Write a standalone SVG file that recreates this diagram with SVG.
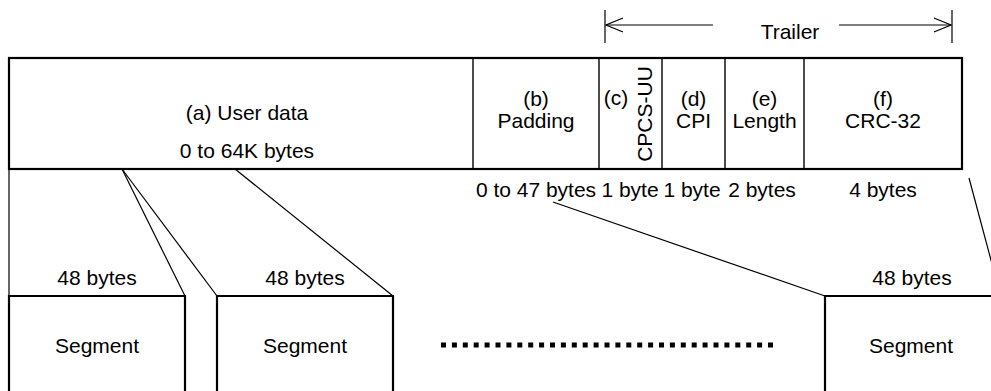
<svg xmlns="http://www.w3.org/2000/svg" width="991" height="391" viewBox="0 0 991 391">
  <style>
    text { font-family: "Liberation Sans", Arial, sans-serif; font-size: 21px; fill: #000; }
    .mid { text-anchor: middle; }
    .frame { fill: #fff; stroke: #000; stroke-width: 2.2; }
    .div { stroke: #000; stroke-width: 1.4; }
    .thin { stroke: #000; stroke-width: 1.2; fill: none; }
  </style>
  <defs>
    <!-- open V arrowhead, tip at the line end -->
    <marker id="openHead" viewBox="0 0 19 16" refX="18" refY="8" markerWidth="19" markerHeight="16" markerUnits="userSpaceOnUse" orient="auto-start-reverse">
      <path d="M1,1 L18,8 L1,15" fill="none" stroke="#000" stroke-width="1.3"/>
    </marker>
  </defs>
  <rect width="991" height="391" fill="#fff"/>

  <!-- Trailer span indicator -->
  <g id="trailer">
    <line class="thin" x1="605" y1="10" x2="605" y2="43"/>
    <line class="thin" x1="952" y1="10" x2="952" y2="43"/>
    <line class="thin" x1="606" y1="25" x2="713" y2="25" marker-start="url(#openHead)"/>
    <line class="thin" x1="839" y1="25" x2="951" y2="25" marker-end="url(#openHead)"/>
    <text class="mid" x="790" y="39">Trailer</text>
  </g>

  <!-- CPCS-PDU fields -->
  <g id="pdu">
    <rect class="frame" x="9" y="58" width="953" height="111"/>
    <line class="div" x1="473" y1="58" x2="473" y2="169"/>
    <line class="div" x1="599" y1="58" x2="599" y2="169"/>
    <line class="div" x1="662" y1="58" x2="662" y2="169"/>
    <line class="div" x1="725" y1="58" x2="725" y2="169"/>
    <line class="div" x1="804" y1="58" x2="804" y2="169"/>
  </g>
  <g id="user-data">
    <text class="mid" x="247" y="120">(a) User data</text>
    <text class="mid" x="247" y="158">0 to 64K bytes</text>
  </g>
  <g id="padding">
    <text class="mid" x="536" y="106">(b)</text>
    <text class="mid" x="536" y="128">Padding</text>
    <text class="mid" x="536" y="197">0 to 47 bytes</text>
  </g>
  <g id="cpcs-uu">
    <text class="mid" x="616" y="105">(c)</text>
    <text class="mid" transform="translate(652,114) rotate(-90)">CPCS-UU</text>
    <text class="mid" x="630" y="197">1 byte</text>
  </g>
  <g id="cpi">
    <text class="mid" x="693.5" y="106">(d)</text>
    <text class="mid" x="693.5" y="128">CPI</text>
    <text class="mid" x="692" y="197">1 byte</text>
  </g>
  <g id="length">
    <text class="mid" x="764.5" y="106">(e)</text>
    <text class="mid" x="764.5" y="128">Length</text>
    <text class="mid" x="762" y="197">2 bytes</text>
  </g>
  <g id="crc">
    <text class="mid" x="883" y="106">(f)</text>
    <text class="mid" x="883" y="128">CRC-32</text>
    <text class="mid" x="883" y="197">4 bytes</text>
  </g>

  <!-- Mapping lines from the PDU onto the cells -->
  <g id="connectors">
    <line class="thin" x1="9" y1="169" x2="9" y2="296"/>
    <line class="thin" x1="122" y1="169" x2="185" y2="296"/>
    <line class="thin" x1="122" y1="169" x2="217" y2="296"/>
    <line class="thin" x1="235" y1="169" x2="393" y2="296"/>
    <line class="thin" x1="553" y1="202" x2="825" y2="296"/>
    <line class="thin" x1="969" y1="178" x2="995" y2="275"/>
  </g>

  <!-- 48-byte segments -->
  <g id="segment-1">
    <path class="frame" d="M9,400 V296 H185 V400" fill="none"/>
    <text class="mid" x="97" y="285">48 bytes</text>
    <text class="mid" x="97" y="353">Segment</text>
  </g>
  <g id="segment-2">
    <path class="frame" d="M217,400 V296 H393 V400" fill="none"/>
    <text class="mid" x="305" y="285">48 bytes</text>
    <text class="mid" x="305" y="353">Segment</text>
  </g>
  <g id="ellipsis">
    <line x1="441" y1="345" x2="776" y2="345" stroke="#000" stroke-width="5" stroke-dasharray="5 5.9"/>
  </g>
  <g id="segment-n">
    <path class="frame" d="M825,400 V296 H1001 V400" fill="none"/>
    <text class="mid" x="912" y="285">48 bytes</text>
    <text class="mid" x="911" y="353">Segment</text>
  </g>
</svg>
